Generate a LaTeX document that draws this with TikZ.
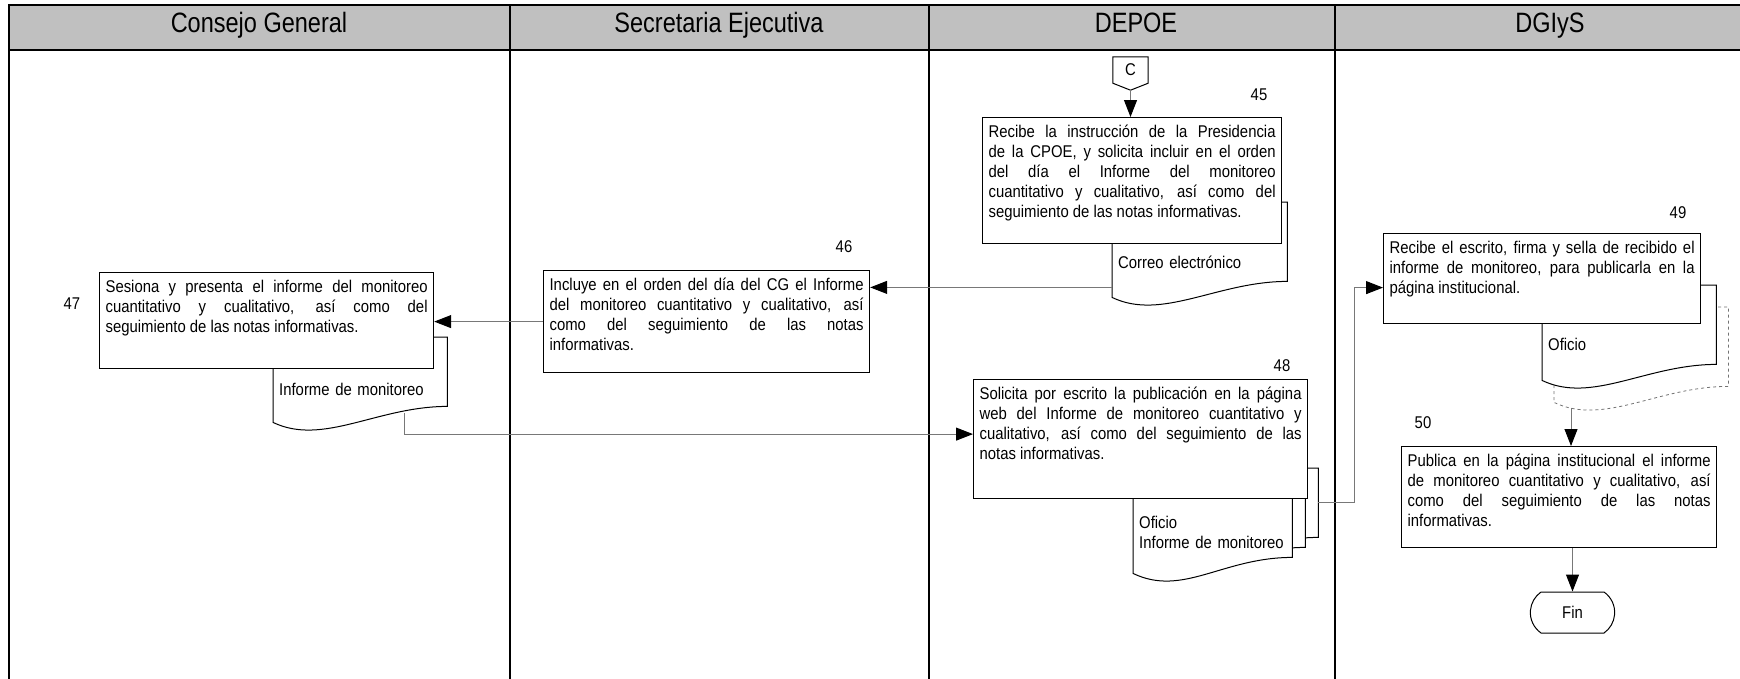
\documentclass[tikz,border=0pt]{standalone}
\usepackage{fontspec}
\setmainfont{Liberation Sans}[FakeStretch=0.875]
\newfontfamily\lanefont{Liberation Sans}[FakeStretch=0.84]
\usetikzlibrary{
  arrows.meta,
  positioning,
  calc,
  backgrounds,
  shapes.misc
}
\definecolor{lanegray}{RGB}{192,192,192}
\definecolor{linkgray}{RGB}{120,120,120}

\begin{document}
\begin{tikzpicture}[x=1pt, y=-1pt,
  lane/.style={draw=black, line width=1.6pt},
  hdr/.style={font=\lanefont\fontsize{28}{30}\selectfont, anchor=base},
  proc/.style={draw=black, fill=white, line width=1.2pt, anchor=north west,
               align=justify, inner xsep=6pt, inner ysep=8pt, text height=12pt,
               font=\fontsize{17}{20}\selectfont,
               execute at begin node={\hyphenpenalty=10000\tolerance=10000}},
  docbox/.style={anchor=north west, align=left, inner xsep=6pt, inner ysep=0pt,
                 font=\fontsize{17}{20}\selectfont},
  docline/.style={draw=black, fill=white, line width=1pt},
  num/.style={font=\fontsize{17}{20}\selectfont},
  flow/.style={-{Triangle[length=17pt, width=13pt, black]}, line width=1pt, linkgray},
  term/.style={rounded rectangle, rounded rectangle arc length=110, draw=black,
               fill=white, line width=1pt, minimum width=91pt, minimum height=41pt,
               font=\fontsize{17}{20}\selectfont}
]
\useasboundingbox (0,0) rectangle (1740,678);

%% ---------- LANES ----------
\draw[lane, fill=lanegray] (9,5) rectangle (1790,50);
\foreach \x in {9,510,929,1335}
  \draw[lane] (\x,5) -- (\x,690);
\node[hdr] (h1) at (259,32)  {Consejo General};
\node[hdr] (h2) at (719,32)  {Secretaria Ejecutiva};
\node[hdr] (h3) at (1136,32) {DEPOE};
\node[hdr] (h4) at (1550,32) {DGIyS};

%% ---------- DOCUMENT TEXTS ----------
\node[docbox, text width=163pt, text height=66pt, text depth=29pt] (d45) at (1112,202) {Correo electrónico};
\node[docbox, text width=162pt, text height=58pt, text depth=27pt] (d47) at (273,337)  {Informe de monitoreo};
\node[docbox, text width=147pt, text height=40pt, text depth=45pt] (d48) at (1133,488) {Oficio\\Informe de monitoreo};
\node[docbox, minimum width=174pt, minimum height=95pt] (d49b) at (1554,307) {};
\node[docbox, text width=162pt, text height=65pt, text depth=30pt] (d49) at (1542,285) {Oficio};

%% ---------- DOCUMENT OUTLINES ----------
\begin{scope}[on background layer]
  \draw[docline] (d45.north west) -- (d45.south west) .. controls +(50,24) and +(-70,0) ..
    ($(d45.south east)+(0,-16)$) -- (d45.north east) -- cycle;
  \draw[docline] (d47.north west) -- (d47.south west) .. controls +(50,24) and +(-70,0) ..
    ($(d47.south east)+(0,-16)$) -- (d47.north east) -- cycle;
  % stack of three pages
  \draw[docline] ($(d48.north west)+(26,-20)$) -- ($(d48.south west)+(26,-20)$) .. controls +(50,24) and +(-70,0) ..
    ($(d48.south east)+(26,-36)$) -- ($(d48.north east)+(26,-20)$) -- cycle;
  \draw[docline] ($(d48.north west)+(13,-10)$) -- ($(d48.south west)+(13,-10)$) .. controls +(50,24) and +(-70,0) ..
    ($(d48.south east)+(13,-26)$) -- ($(d48.north east)+(13,-10)$) -- cycle;
  \draw[docline] (d48.north west) -- (d48.south west) .. controls +(50,24) and +(-70,0) ..
    ($(d48.south east)+(0,-16)$) -- (d48.north east) -- cycle;
  % copy behind the Oficio
  \draw[docline, dashed, draw=black!55, line width=0.8pt] (d49b.north west) -- (d49b.south west) .. controls +(50,24) and +(-70,0) ..
    ($(d49b.south east)+(0,-16)$) -- (d49b.north east) -- cycle;
  \draw[docline] (d49.north west) -- (d49.south west) .. controls +(50,24) and +(-70,0) ..
    ($(d49.south east)+(0,-16)$) -- (d49.north east) -- cycle;
\end{scope}

%% ---------- ACTIVITIES ----------
\node[proc, text width=287pt, text depth=98pt] (b45) at (982,117)
  {Recibe la instrucción de la Presidencia\linebreak de la CPOE, y solicita incluir en el orden\linebreak del día el Informe del monitoreo\linebreak cuantitativo y cualitativo, así como del\linebreak seguimiento de las notas informativas.};
\node[proc, text width=314pt, text depth=74pt] (b46) at (543,270)
  {Incluye en el orden del día del CG el Informe\linebreak del monitoreo cuantitativo y cualitativo, así\linebreak como del seguimiento de las notas\linebreak informativas.};
\node[proc, text width=322pt, text depth=68pt] (b47) at (99,272)
  {Sesiona y presenta el informe del monitoreo\linebreak cuantitativo y cualitativo, así como del\linebreak seguimiento de las notas informativas.};
\node[proc, text width=322pt, text depth=91pt] (b48) at (973,379)
  {Solicita por escrito la publicación en la página\linebreak web del Informe de monitoreo cuantitativo y\linebreak cualitativo, así como del seguimiento de las\linebreak notas informativas.};
\node[proc, text width=305pt, text depth=62pt] (b49) at (1383,233)
  {Recibe el escrito, firma y sella de recibido el\linebreak informe de monitoreo, para publicarla en la\linebreak página institucional.};
\node[proc, text width=303pt, text depth=73pt] (b50) at (1401,446)
  {Publica en la página institucional el informe\linebreak de monitoreo cuantitativo y cualitativo, así\linebreak como del seguimiento de las notas\linebreak informativas.};

%% ---------- STEP NUMBERS ----------
\node[num] (n45) at (1259,95)  {45};
\node[num] (n46) at (844,247)  {46};
\node[num] (n47) at (72,304)   {47};
\node[num] (n48) at (1282,366) {48};
\node[num] (n49) at (1678,213) {49};
\node[num] (n50) at (1423,423) {50};

%% ---------- CONNECTOR AND END ----------
\node[font=\fontsize{17}{20}\selectfont, minimum width=35pt, minimum height=26pt, inner sep=0pt]
  (conC) at (1130.5,70) {C};
\draw[line width=1pt] (conC.north west) -- (conC.north east) -- (conC.south east)
  -- ($(conC.south)+(0,7)$) coordinate (ctip) -- (conC.south west) -- cycle;
\node[term] (fin) at (1572.5,612.5) {Fin};

%% ---------- FLOW ----------
\coordinate (k45) at ($(d45.south west)+(0,-10)$);
\coordinate (k47) at ($(d47.south west)+(131,-9)$);
\coordinate (k48) at ($(d48.north east)+(26,14)$);
\coordinate (k49) at ($(d49b.south west)+(17,6)$);

\draw[flow] (ctip) -- (ctip |- b45.north);
\draw[flow] (k45) -- (k45 -| b46.east);
\draw[flow] (b46.west) -- (b46.west -| b47.east);
\draw[flow] (k47) |- ([yshift=5pt]b48.west);
\draw[flow] (k48) -- ++(36,0) |- ([yshift=-9pt]b49.west);
\draw[flow] (k49) -- (k49 |- b50.north);
\draw[flow] (fin.north |- b50.south) -- (fin.north);

\end{tikzpicture}
\end{document}
